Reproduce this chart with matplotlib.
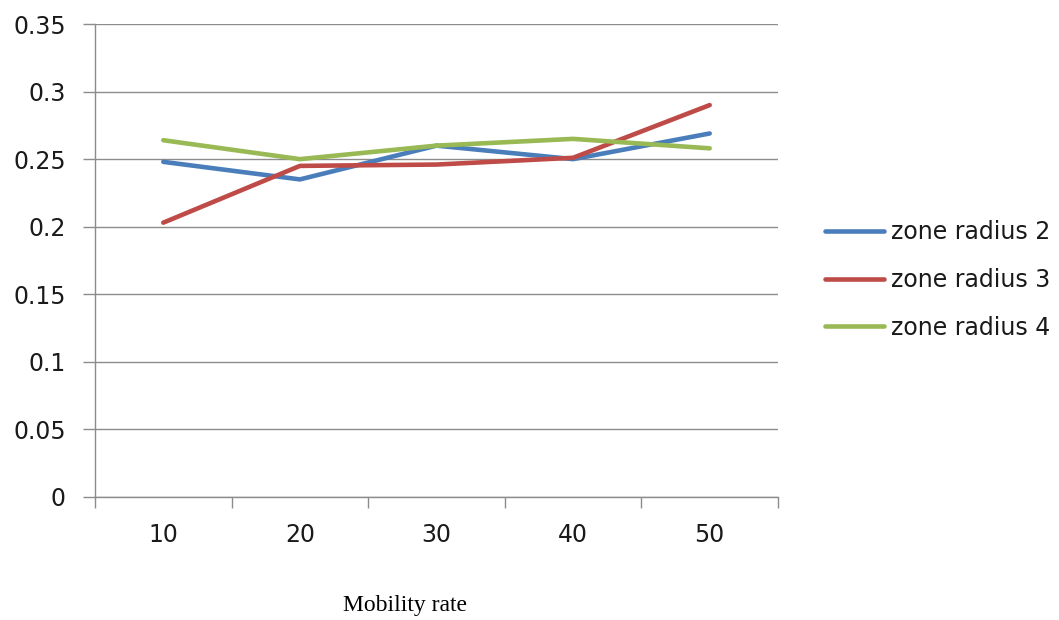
import matplotlib
matplotlib.use("Agg")
import matplotlib.pyplot as plt
from matplotlib.ticker import FixedLocator

categories = ["10", "20", "30", "40", "50"]
zone2 = [0.248, 0.235, 0.260, 0.250, 0.269]
zone3 = [0.203, 0.245, 0.246, 0.251, 0.290]
zone4 = [0.264, 0.250, 0.260, 0.265, 0.258]
series_names = ["zone radius 2", "zone radius 3", "zone radius 4"]
colors = ["#4a7ebb", "#be4b48", "#98b954"]
yticks = [0, 0.05, 0.1, 0.15, 0.2, 0.25, 0.3, 0.35]
ytick_labels = ["0", "0.05", "0.1", "0.15", "0.2", "0.25", "0.3", "0.35"]

W, H = 1059, 620
fig = plt.figure(figsize=(W / 100, H / 100), dpi=100)
ax = fig.add_axes([95 / W, 1 - 497 / H, (778 - 95) / W, (497 - 24) / H])

x = list(range(len(categories)))
for vals, name, c in zip([zone2, zone3, zone4], series_names, colors):
    ax.plot(x, vals, color=c, lw=3.3, label=name, solid_capstyle="round")

ax.set_xlim(-0.5, len(categories) - 0.5)
ax.set_ylim(0, 0.35)
ax.set_yticks(yticks)
ax.set_yticklabels(ytick_labels)
ax.yaxis.grid(True, color="#8c8c8c", lw=1)
ax.set_axisbelow(True)

ax.set_xticks(x)
ax.set_xticklabels(categories)
ax.xaxis.set_minor_locator(FixedLocator([i - 0.5 for i in range(len(categories) + 1)]))
ax.tick_params(axis="x", which="major", length=0, pad=19, labelsize=17, labelcolor="#1a1a1a")
ax.tick_params(axis="x", which="minor", length=8, color="#8c8c8c", width=1)
ax.tick_params(axis="y", length=9, color="#8c8c8c", width=1, pad=12, labelsize=17, labelcolor="#1a1a1a")
for lab in ax.get_xticklabels() + ax.get_yticklabels():
    lab.set_family("DejaVu Sans")

for s in ["top", "right"]:
    ax.spines[s].set_visible(False)
for s in ["left", "bottom"]:
    ax.spines[s].set_color("#8c8c8c")
    ax.spines[s].set_linewidth(1)

fig.text(405 / W, 1 - 606 / H, "Mobility rate", ha="center", va="center",
         family="Liberation Serif", fontsize=17, color="black")

leg = fig.legend(loc="center left", bbox_to_anchor=(804 / W, 1 - 280 / H),
                 frameon=False, prop={"family": "DejaVu Sans", "size": 17},
                 handlelength=2.5, handletextpad=0.3, labelspacing=1.0)
for t in leg.get_texts():
    t.set_color("#1a1a1a")

fig.savefig("out.png", dpi=100)
